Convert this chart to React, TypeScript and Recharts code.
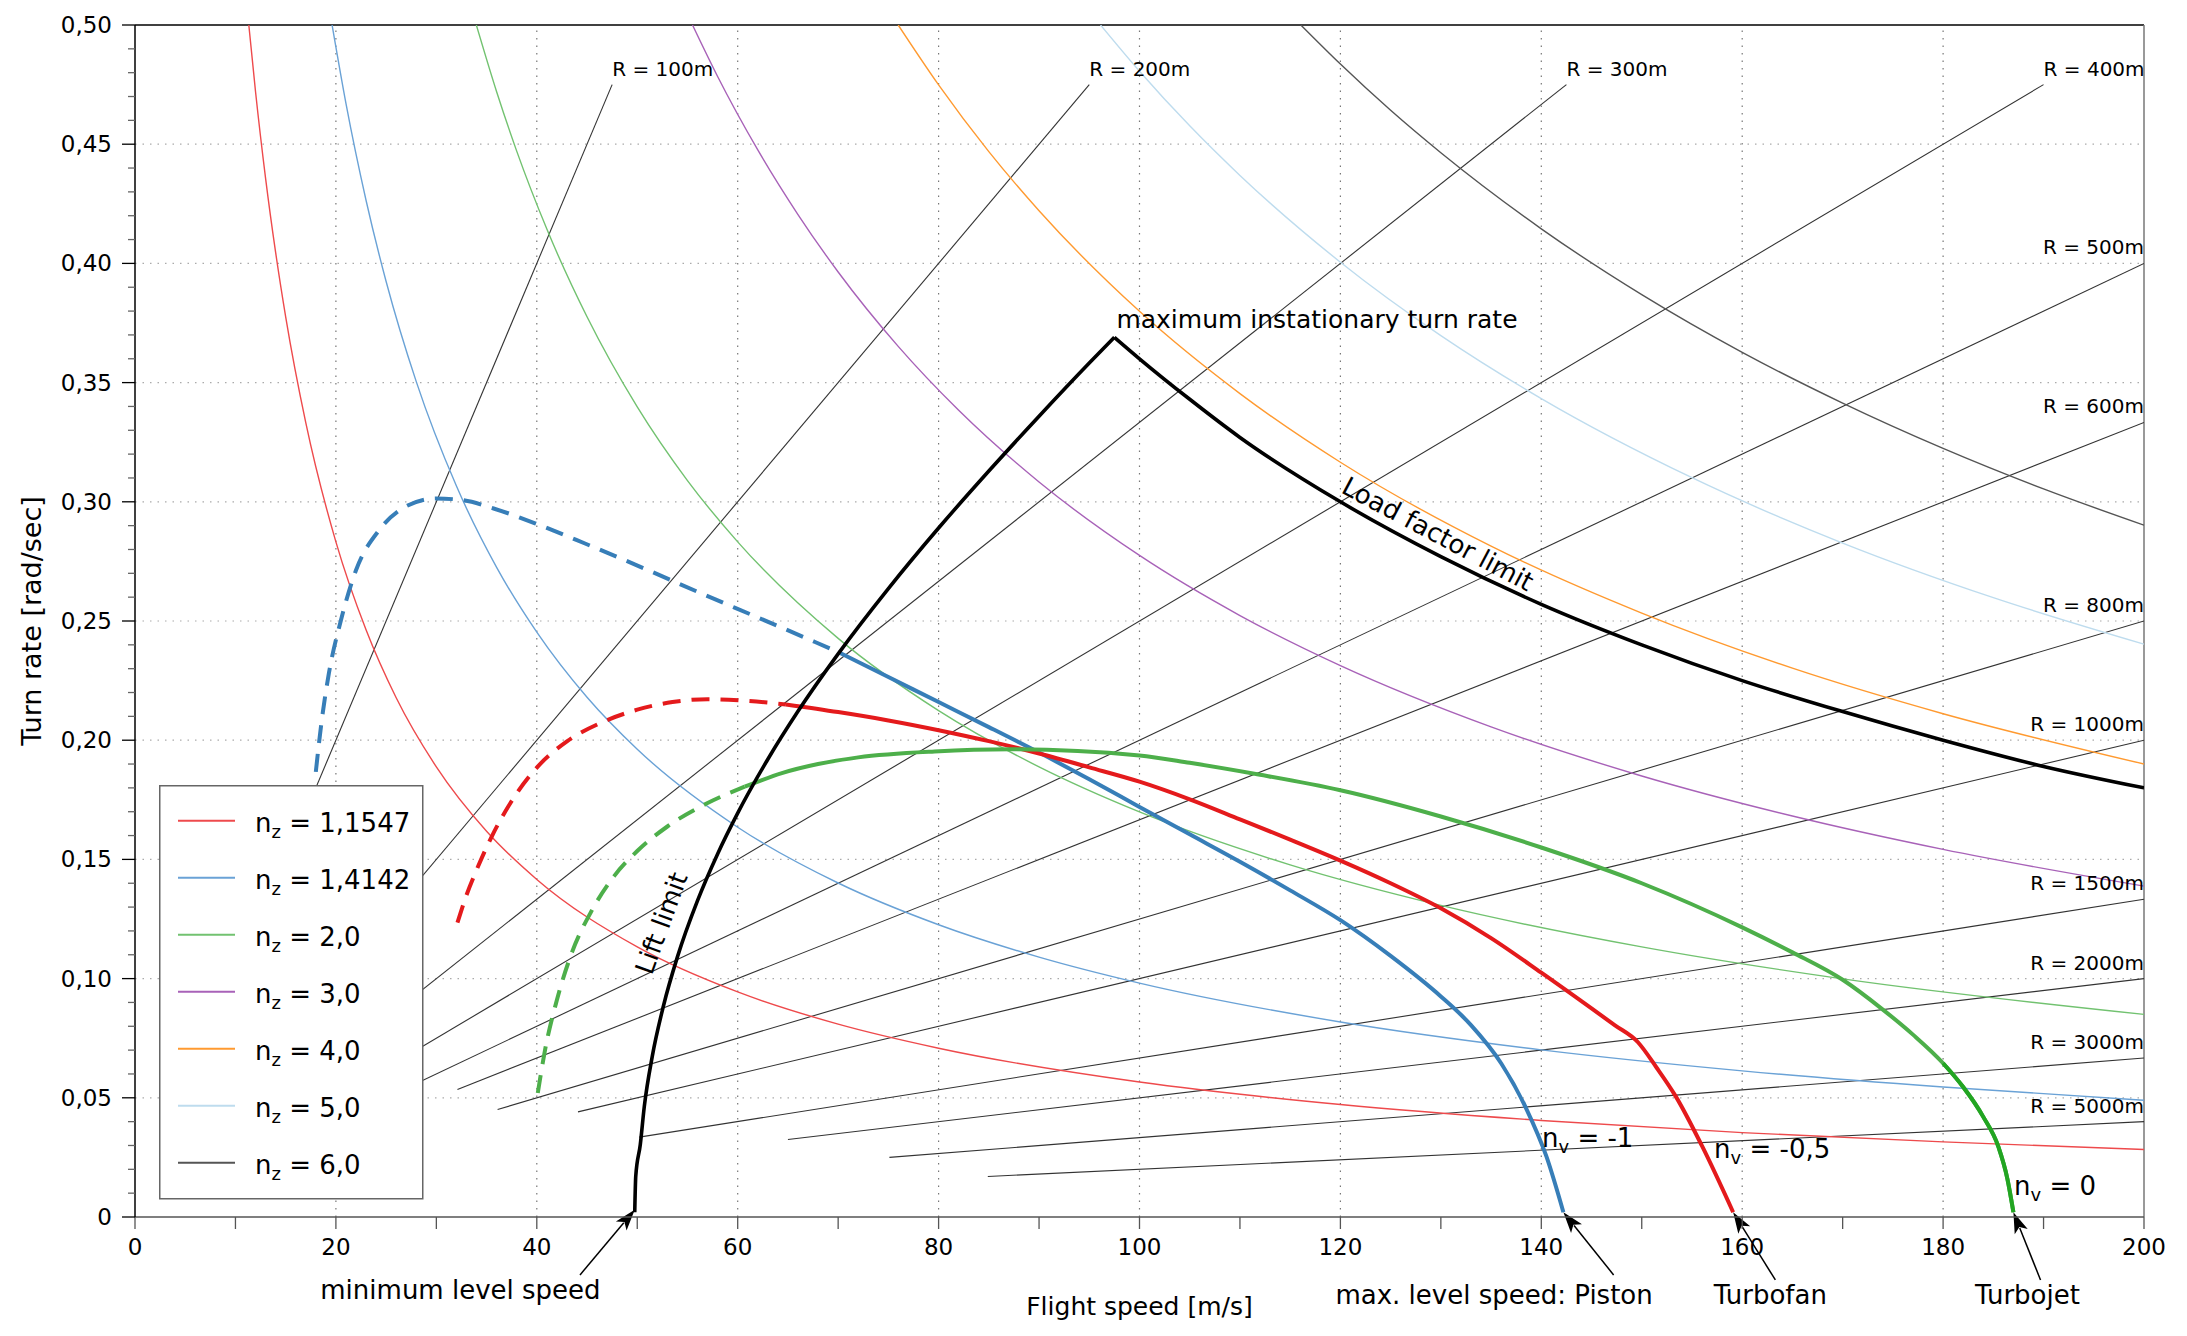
import React from "react";
import { LineChart, Line, XAxis, YAxis, ReferenceLine, ReferenceDot } from "recharts";

const FONT = '"DejaVu Sans", "Liberation Sans", sans-serif';

type P = [number, number]; // [flight speed m/s, turn rate rad/s]

// --- stationary turns at constant load factor n_z (thin curves) ---
const NZ_11547: P[] = [
  [11.33, 0.5], [12, 0.472], [13, 0.4357], [14, 0.4046], [15, 0.3776], [17, 0.3332], [20, 0.2832],
  [23, 0.2463], [26, 0.2178], [30, 0.1888], [35, 0.1618], [40, 0.1416], [50, 0.1133], [60, 0.0944],
  [70, 0.0809], [80, 0.0708], [100, 0.0566], [120, 0.0472], [140, 0.0405], [160, 0.0354], [180, 0.0315], [200, 0.0283],
];
const NZ_14142: P[] = [
  [19.62, 0.5], [21, 0.4671], [23, 0.4265], [25, 0.3924], [28, 0.3504], [32, 0.3066], [36, 0.2725],
  [40, 0.2453], [45, 0.218], [50, 0.1962], [60, 0.1635], [70, 0.1401], [80, 0.1226], [90, 0.109],
  [100, 0.0981], [120, 0.0818], [140, 0.0701], [160, 0.0613], [180, 0.0545], [200, 0.049],
];
const NZ_2: P[] = [
  [33.98, 0.5], [36, 0.472], [38, 0.4471], [41, 0.4144], [45, 0.3776], [50, 0.3398], [55, 0.3089],
  [60, 0.2832], [70, 0.2427], [80, 0.2124], [90, 0.1888], [100, 0.1699], [115, 0.1477], [130, 0.1307],
  [150, 0.1133], [170, 0.0999], [200, 0.085],
];
const NZ_3: P[] = [
  [55.5, 0.5], [58, 0.4784], [62, 0.4476], [66, 0.4205], [70, 0.3964], [76, 0.3651], [82, 0.3384],
  [90, 0.3083], [100, 0.2775], [110, 0.2523], [120, 0.2313], [135, 0.2056], [150, 0.185], [165, 0.1682],
  [180, 0.1542], [200, 0.1388],
];
const NZ_4: P[] = [
  [75.98, 0.5], [80, 0.4749], [85, 0.4469], [90, 0.4221], [100, 0.3799], [110, 0.3454], [120, 0.3166],
  [135, 0.2814], [150, 0.2533], [165, 0.2302], [180, 0.2111], [200, 0.19],
];
const NZ_5: P[] = [
  [96.12, 0.5], [100, 0.4806], [105, 0.4577], [110, 0.4369], [120, 0.4005], [130, 0.3697], [140, 0.3433],
  [155, 0.3101], [170, 0.2827], [185, 0.2598], [200, 0.2403],
];
const NZ_6: P[] = [
  [116.06, 0.5], [120, 0.4836], [125, 0.4642], [130, 0.4464], [140, 0.4145], [150, 0.3869], [160, 0.3627],
  [170, 0.3414], [180, 0.3224], [190, 0.3054], [200, 0.2902],
];

const NZ_LABELS = ["1,1547", "1,4142", "2,0", "3,0", "4,0", "5,0", "6,0"];
const NZ_COLORS = ["#ee4a4c", "#6aa2d6", "#72c270", "#a862b8", "#ff9a30", "#bedcee", "#555555"];
const NZ_DATA = [NZ_11547, NZ_14142, NZ_2, NZ_3, NZ_4, NZ_5, NZ_6];

// --- constant turn radius lines ---
const R_LABELS = ["100", "200", "300", "400", "500", "600", "800", "1000", "1500", "2000", "3000", "5000"];
const R_LINES: P[][] = [
  [[15, 0.15], [47.5, 0.475]],
  [[20, 0.1], [95, 0.475]],
  [[22, 0.0733], [142.5, 0.475]],
  [[24, 0.06], [190, 0.475]],
  [[26, 0.052], [200, 0.4]],
  [[32.1, 0.0535], [200, 0.3333]],
  [[36.1, 0.0451], [200, 0.25]],
  [[44.1, 0.0441], [200, 0.2]],
  [[50.2, 0.0335], [200, 0.1333]],
  [[65, 0.0325], [200, 0.1]],
  [[75.1, 0.025], [200, 0.0667]],
  [[84.9, 0.017], [200, 0.04]],
];

// --- sustained turn rate, n_v = -1 (piston) ---
const PISTON_DASH: P[] = [
  [18, 0.1867], [18.55, 0.207], [19.3, 0.228], [20.5, 0.2503], [22, 0.2713], [24.3, 0.2881], [26.9, 0.2979],
  [30, 0.3014], [32.6, 0.3007], [35.7, 0.2972], [40.3, 0.2902], [44.8, 0.2825], [50.6, 0.2722], [56.3, 0.2617],
  [62, 0.2515], [67.7, 0.2412], [70, 0.237],
];
const PISTON: P[] = [
  [70, 0.237], [75, 0.2265], [80, 0.216], [85, 0.2055], [90, 0.1948], [95, 0.1836], [100, 0.172],
  [105, 0.1605], [110, 0.149], [115, 0.137], [120, 0.1245], [125, 0.1095], [130, 0.0925], [133, 0.0805],
  [136, 0.0645], [138.5, 0.0455], [140.5, 0.0255], [142.2, 0.002],
];
// --- n_v = -0,5 (turbofan) ---
const TURBOFAN_DASH: P[] = [
  [32.1, 0.1235], [33, 0.135], [34, 0.1455], [35.5, 0.1595], [37.5, 0.1745], [40, 0.1885], [43, 0.1995],
  [46.5, 0.2075], [50, 0.2128], [53.5, 0.216], [57, 0.2172], [60.6, 0.2166], [64.8, 0.215],
];
const TURBOFAN: P[] = [
  [64.8, 0.215], [70, 0.2118], [75, 0.2083], [80, 0.2042], [85, 0.1996], [90, 0.1944], [95, 0.1886],
  [100, 0.1826], [105, 0.1752], [110, 0.1668], [115, 0.1583], [120, 0.1495], [125, 0.14], [130, 0.1295],
  [135, 0.117], [140, 0.1025], [145, 0.0875], [147.3, 0.0805], [149.6, 0.0734], [151.5, 0.0625],
  [153.4, 0.0505], [156, 0.0298], [159.1, 0.002],
];
// --- n_v = 0 (turbojet) ---
const TURBOJET_DASH: P[] = [
  [40.1, 0.052], [40.8, 0.0696], [42, 0.091], [43.5, 0.111], [45.4, 0.128], [47.7, 0.143], [50, 0.1535],
  [53, 0.1638], [56.8, 0.1732], [60.7, 0.1805],
];
const TURBOJET: P[] = [
  [60.7, 0.1805], [64.4, 0.1862], [68, 0.19], [72, 0.1928], [79.6, 0.1953], [87.2, 0.1962], [100, 0.1936],
  [105, 0.1905], [112, 0.1855], [120, 0.179], [130, 0.168], [140, 0.155], [150, 0.14], [160, 0.1215],
  [165, 0.111], [170, 0.0995], [174, 0.087], [177, 0.0765], [180, 0.0645], [182, 0.0545], [184, 0.042],
  [185.5, 0.0295], [186.4, 0.016], [187, 0.002],
];
// last stretch of the turbojet curve, drawn in a deeper green
const TURBOJET_TAIL: P[] = [
  [180, 0.0645], [182, 0.0545], [184, 0.042], [185.5, 0.0295], [186.4, 0.016], [187, 0.002],
];

// --- envelope ---
const LIFT_LIMIT: P[] = [
  [49.75, 0.002], [49.85, 0.017], [50.3, 0.0303], [50.7, 0.0463], [51.5, 0.0675], [52.6, 0.0884],
  [54, 0.1091], [56, 0.1327], [58, 0.1523], [60, 0.1694], [63, 0.192], [66, 0.2121], [70, 0.2362],
  [75, 0.2636], [80, 0.289], [85, 0.3129], [90, 0.3359], [95, 0.3582], [97.5, 0.369],
];
const LOAD_LIMIT: P[] = [
  [97.5, 0.369], [100, 0.36], [105, 0.343], [110, 0.327], [120, 0.3], [130, 0.277], [140, 0.257],
  [150, 0.24], [160, 0.225], [170, 0.212], [180, 0.2], [190, 0.189], [200, 0.18],
];

const X_TICKS = [0, 10, 20, 30, 40, 50, 60, 70, 80, 90, 100, 110, 120, 130, 140, 150, 160, 170, 180, 190, 200];
const Y_TICKS = [
  0, 0.01, 0.02, 0.03, 0.04, 0.05, 0.06, 0.07, 0.08, 0.09, 0.1, 0.11, 0.12, 0.13, 0.14, 0.15, 0.16, 0.17,
  0.18, 0.19, 0.2, 0.21, 0.22, 0.23, 0.24, 0.25, 0.26, 0.27, 0.28, 0.29, 0.3, 0.31, 0.32, 0.33, 0.34, 0.35,
  0.36, 0.37, 0.38, 0.39, 0.4, 0.41, 0.42, 0.43, 0.44, 0.45, 0.46, 0.47, 0.48, 0.49, 0.5,
];
const X_GRID = [20, 40, 60, 80, 100, 120, 140, 160, 180];
const Y_GRID = [0.05, 0.1, 0.15, 0.2, 0.25, 0.3, 0.35, 0.4, 0.45];

// annotations under the axis (text centre) and their arrows (tail -> tip)
const NOTES = [
  { v: 32.4, w: -0.0306, text: "minimum level speed" },
  { v: 135.3, w: -0.0327, text: "max. level speed: Piston" },
  { v: 162.8, w: -0.0327, text: "Turbofan" },
  { v: 188.4, w: -0.0327, text: "Turbojet" },
];
const ARROWS: { from: P; to: P }[] = [
  { from: [44.3, -0.0243], to: [49.75, 0.003] },
  { from: [147.2, -0.0243], to: [142.2, 0.002] },
  { from: [163.3, -0.0264], to: [159.1, 0.002] },
  { from: [189.7, -0.0264], to: [187, 0.002] },
];
const NV_LABELS = [
  { v: 140.07, w: 0.0294, text: " = -1" },
  { v: 157.2, w: 0.0247, text: " = -0,5" },
  { v: 187.06, w: 0.0092, text: " = 0" },
];

const pts = (a: P[]) => a.map(([v, w]) => ({ v, w }));
const fmtY = (v: number) => (v === 0 ? "0" : v.toFixed(2).replace(".", ","));

function YTick(props: any) {
  const { x, y, payload } = props;
  const v = payload.value as number;
  const major = Math.abs(v * 20 - Math.round(v * 20)) < 1e-6;
  const ax = x + 23; // tickSize 13 + tickMargin 10
  return (
    <g>
      <line x1={ax - (major ? 13 : 7)} x2={ax} y1={y} y2={y} stroke={major ? "#000" : "#666"} strokeWidth={1.3} />
      {major && (
        <text x={x} y={y} textAnchor="end" dominantBaseline="central" fontSize={23} fontFamily={FONT} fill="#000">
          {fmtY(v)}
        </text>
      )}
    </g>
  );
}

function arrowShape(p: any) {
  const { x1, y1, x2, y2 } = p;
  const dx = x2 - x1;
  const dy = y2 - y1;
  const L = Math.hypot(dx, dy) || 1;
  const ux = dx / L;
  const uy = dy / L;
  const hl = 21;
  const hw = 7;
  const bx = x2 - ux * hl;
  const by = y2 - uy * hl;
  return (
    <g>
      <line x1={x1} y1={y1} x2={bx + ux * 4} y2={by + uy * 4} stroke="#000" strokeWidth={1.5} />
      <polygon
        points={`${x2},${y2} ${bx - uy * hw},${by + ux * hw} ${bx + ux * 5},${by + uy * 5} ${bx + uy * hw},${by - ux * hw}`}
        fill="#000"
      />
    </g>
  );
}

const textShape =
  (text: string, opts: { anchor?: string; rotate?: number; size?: number; dy?: number; baseline?: string }) =>
  (p: any) => {
    const { cx, cy } = p;
    const rot = opts.rotate ?? 0;
    return (
      <text
        x={cx}
        y={cy + (opts.dy ?? 0)}
        textAnchor={opts.anchor ?? "middle"}
        dominantBaseline={opts.baseline ?? "central"}
        fontSize={opts.size ?? 25}
        fontFamily={FONT}
        fill="#000"
        transform={rot ? `rotate(${rot}, ${cx}, ${cy})` : undefined}
      >
        {text}
      </text>
    );
  };

const nvShape = (text: string) => (p: any) => (
  <text x={p.cx} y={p.cy} fontSize={26} fontFamily={FONT} fill="#000">
    n<tspan dy={6} fontSize={18}>v</tspan>
    <tspan dy={-6}>{text}</tspan>
  </text>
);

export default function App() {
  return (
    <div style={{ position: "absolute", left: 0, top: 0, width: 2187, height: 1336, background: "#fff" }}>
      <LineChart width={2187} height={1336} margin={{ top: 25, right: 43, bottom: 69, left: 25 }}>
        <XAxis
          type="number"
          dataKey="v"
          domain={[0, 200]}
          allowDataOverflow
          ticks={X_TICKS}
          interval={0}
          tickFormatter={(v: number) => (v % 20 === 0 ? String(v) : "")}
          tickSize={12}
          tickMargin={10}
          height={50}
          stroke="#555"
          axisLine={{ stroke: "#555", strokeWidth: 1.5 }}
          tickLine={{ stroke: "#555", strokeWidth: 1.3 }}
          tick={{ fill: "#000", fontSize: 23, fontFamily: FONT }}
          label={{
            content: (p: any) => (
              <text
                x={p.viewBox.x + p.viewBox.width / 2}
                y={p.viewBox.y + 89}
                textAnchor="middle"
                dominantBaseline="central"
                fontSize={25}
                fontFamily={FONT}
                fill="#000"
              >
                Flight speed [m/s]
              </text>
            ),
          }}
        />
        <YAxis
          type="number"
          domain={[0, 0.5]}
          allowDataOverflow
          ticks={Y_TICKS}
          interval={0}
          width={110}
          tickSize={13}
          tickMargin={10}
          tickLine={false}
          axisLine={{ stroke: "#000", strokeWidth: 1.5 }}
          tick={<YTick />}
          label={{
            content: (p: any) => {
              const cx = p.viewBox.x + 6;
              const cy = p.viewBox.y + p.viewBox.height / 2;
              return (
                <text
                  x={cx}
                  y={cy}
                  textAnchor="middle"
                  dominantBaseline="central"
                  fontSize={27}
                  fontFamily={FONT}
                  fill="#000"
                  transform={`rotate(-90, ${cx}, ${cy})`}
                >
                  Turn rate [rad/sec]
                </text>
              );
            },
          }}
        />

        {X_GRID.map((x) => (
          <ReferenceLine key={`gx${x}`} x={x} stroke="#777" strokeWidth={1.2} strokeDasharray="1.5 6" />
        ))}
        {Y_GRID.map((y) => (
          <ReferenceLine key={`gy${y}`} y={y} stroke="#aaa" strokeWidth={1.2} strokeDasharray="1.5 6" />
        ))}
        <ReferenceLine y={0.5} stroke="#000" strokeWidth={1.5} />
        <ReferenceLine x={200} stroke="#777" strokeWidth={1.5} />

        {R_LINES.map((seg, i) => (
          <Line
            key={`r${i}`}
            data={pts(seg)}
            dataKey="w"
            type="linear"
            stroke="#333"
            strokeWidth={1.1}
            dot={false}
            activeDot={false}
            isAnimationActive={false}
          />
        ))}
        {NZ_DATA.map((d, i) => (
          <Line
            key={`nz${i}`}
            data={pts(d)}
            dataKey="w"
            type="monotone"
            stroke={NZ_COLORS[i]}
            strokeWidth={1.4}
            dot={false}
            activeDot={false}
            isAnimationActive={false}
          />
        ))}

        {[
          { d: PISTON_DASH, c: "#377eb8", dash: true },
          { d: PISTON, c: "#377eb8", dash: false },
          { d: TURBOFAN_DASH, c: "#e41a1c", dash: true },
          { d: TURBOFAN, c: "#e41a1c", dash: false },
          { d: TURBOJET_DASH, c: "#4daf4a", dash: true },
          { d: TURBOJET, c: "#4daf4a", dash: false },
          { d: TURBOJET_TAIL, c: "#22a522", dash: false },
        ].map((s, i) => (
          <Line
            key={`nv${i}`}
            data={pts(s.d)}
            dataKey="w"
            type="monotone"
            stroke={s.c}
            strokeWidth={4}
            strokeDasharray={s.dash ? "18 11" : undefined}
            dot={false}
            activeDot={false}
            isAnimationActive={false}
          />
        ))}
        <Line data={pts(LIFT_LIMIT)} dataKey="w" type="monotone" stroke="#000" strokeWidth={3.6} dot={false} activeDot={false} isAnimationActive={false} />
        <Line data={pts(LOAD_LIMIT)} dataKey="w" type="monotone" stroke="#000" strokeWidth={3.6} dot={false} activeDot={false} isAnimationActive={false} />

        {R_LINES.map((seg, i) => {
          const [v, w] = seg[seg.length - 1];
          return (
            <ReferenceDot
              key={`rl${i}`}
              x={v}
              y={w}
              r={0}
              ifOverflow="visible"
              shape={textShape(`R = ${R_LABELS[i]}m`, {
                anchor: v < 200 ? "start" : "end",
                size: 20,
                dy: -9,
                baseline: "auto",
              })}
            />
          );
        })}

        <ReferenceDot x={97.7} y={0.373} r={0} ifOverflow="visible" shape={textShape("maximum instationary turn rate", { anchor: "start", baseline: "auto", size: 25 })} />
        <ReferenceDot x={129.7} y={0.2865} r={0} ifOverflow="visible" shape={textShape("Load factor limit", { rotate: 28, size: 26 })} />
        <ReferenceDot x={52.4} y={0.1233} r={0} ifOverflow="visible" shape={textShape("Lift limit", { rotate: -70, size: 26 })} />

        {NV_LABELS.map((l, i) => (
          <ReferenceDot key={`nvl${i}`} x={l.v} y={l.w} r={0} ifOverflow="visible" shape={nvShape(l.text)} />
        ))}
        {NOTES.map((n, i) => (
          <ReferenceDot key={`note${i}`} x={n.v} y={n.w} r={0} ifOverflow="visible" shape={textShape(n.text, { size: 26 })} />
        ))}
        {ARROWS.map((a, i) => (
          <ReferenceLine
            key={`ar${i}`}
            segment={[
              { x: a.from[0], y: a.from[1] },
              { x: a.to[0], y: a.to[1] },
            ]}
            ifOverflow="visible"
            shape={arrowShape}
          />
        ))}
      </LineChart>

      <svg style={{ position: "absolute", left: 159, top: 785 }} width={265} height={415}>
        <rect x={0.75} y={0.75} width={263} height={413} fill="#fff" stroke="#666" strokeWidth={1.5} />
        {NZ_LABELS.map((name, i) => {
          const cy = 35.7 + 57 * i;
          return (
            <g key={name}>
              <line x1={19} x2={76} y1={cy} y2={cy} stroke={NZ_COLORS[i]} strokeWidth={2} />
              <text x={96} y={cy + 11} fontSize={26} fontFamily={FONT} fill="#000">
                n<tspan dy={6} fontSize={18}>z</tspan>
                <tspan dy={-6}>{` = ${name}`}</tspan>
              </text>
            </g>
          );
        })}
      </svg>
    </div>
  );
}
